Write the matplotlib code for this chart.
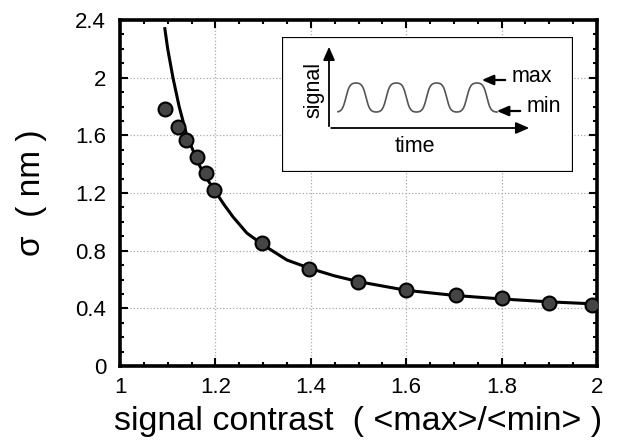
import numpy as np
import matplotlib
matplotlib.use("Agg")
import matplotlib.pyplot as plt
from matplotlib.patches import Rectangle

plt.rcParams['font.family'] = ['Liberation Sans', 'DejaVu Sans']

# measured points
contrast = [1.095, 1.121, 1.138, 1.161, 1.180, 1.197, 1.298, 1.396, 1.499, 1.600, 1.704, 1.800, 1.900, 1.990]
sigma = [1.78, 1.66, 1.57, 1.45, 1.34, 1.22, 0.85, 0.675, 0.585, 0.525, 0.49, 0.47, 0.44, 0.42]

# fitted curve
curve_x = [1.094, 1.100, 1.111, 1.124, 1.140, 1.165, 1.182, 1.200, 1.218, 1.237, 1.266, 1.300, 1.350, 1.400,
           1.450, 1.500, 1.600, 1.700, 1.800, 1.900, 2.000]
curve_y = [2.34, 2.20, 2.00, 1.80, 1.60, 1.40, 1.30, 1.21, 1.12, 1.034, 0.922, 0.84, 0.735, 0.675,
           0.625, 0.585, 0.525, 0.49, 0.465, 0.445, 0.43]

x_ticks = [1, 1.2, 1.4, 1.6, 1.8, 2]
x_ticklabels = ["1", "1.2", "1.4", "1.6", "1.8", "2"]
y_ticks = [0, 0.4, 0.8, 1.2, 1.6, 2.0, 2.4]
y_ticklabels = ["0", "0.4", "0.8", "1.2", "1.6", "2", "2.4"]

fig = plt.figure(figsize=(6.19, 4.41), dpi=100)
ax = fig.add_axes([120/619, 75/441, 477/619, 346/441])

ax.grid(True, which='major', color='#aaaaaa', linestyle=':', linewidth=0.9)
ax.plot(curve_x, curve_y, color='black', lw=2.2, zorder=3)
ax.plot(contrast, sigma, 'o', ms=10, mfc='#454545', mec='black', mew=1.5, zorder=4)

ax.set_xlim(1, 2)
ax.set_ylim(0, 2.4)
ax.set_xticks(x_ticks)
ax.set_xticklabels(x_ticklabels)
ax.set_yticks(y_ticks)
ax.set_yticklabels(y_ticklabels)
ax.set_xticks(np.arange(1, 2.001, 0.05), minor=True)
ax.set_yticks(np.arange(0, 2.401, 0.1), minor=True)
ax.tick_params(which='both', direction='in', top=True, right=True, labelsize=16, width=1.5)
ax.tick_params(which='major', length=6)
ax.tick_params(which='minor', length=3)
ax.tick_params(axis='x', pad=8)
ax.tick_params(axis='y', pad=10)
for s in ax.spines.values():
    s.set_linewidth(2.6)

ax.set_xlabel("signal contrast  ( <max>/<min> )", fontsize=24.5, labelpad=6)
ax.set_ylabel("σ  ( nm )", fontsize=24, labelpad=20)

# inset schematic
ins = fig.add_axes([282/619, (441-172)/441, 291/619, 135/441])
ins.set_xlim(282, 573)
ins.set_ylim(172, 37)
ins.axis('off')
ins.add_patch(Rectangle((282, 37), 291, 135, fill=True, facecolor='white', edgecolor='black', lw=1.6, zorder=0))

ins.annotate('', xy=(329, 44), xytext=(329, 129),
             arrowprops=dict(arrowstyle='-|>,head_length=0.8,head_width=0.35', color='black', lw=1.3))
ins.annotate('', xy=(532, 128), xytext=(328.4, 128),
             arrowprops=dict(arrowstyle='-|>,head_length=0.8,head_width=0.35', color='black', lw=1.3))

wx = np.linspace(338, 497, 400)
s = np.cos(2 * np.pi * (wx - 356) / 40.3)
wy = 112 + (83 - 112) * (0.5 + 0.5 * np.tanh(1.6 * s) / np.tanh(1.6))
ins.plot(wx, wy, color='#555555', lw=1.2)

ins.annotate('', xy=(479, 80), xytext=(508, 80),
             arrowprops=dict(arrowstyle='-|>,head_length=0.7,head_width=0.3', color='black', lw=1.6))
ins.annotate('', xy=(494, 111), xytext=(523, 111),
             arrowprops=dict(arrowstyle='-|>,head_length=0.7,head_width=0.3', color='black', lw=1.6))
ins.text(512, 77, "max", fontsize=15.5, ha='left', va='center')
ins.text(527, 107, "min", fontsize=15.5, ha='left', va='center')
ins.text(415, 147, "time", fontsize=15.5, ha='center', va='center')
ins.text(314, 90, "signal", fontsize=15.5, ha='center', va='center', rotation=90)

fig.savefig("out.png", dpi=100)
